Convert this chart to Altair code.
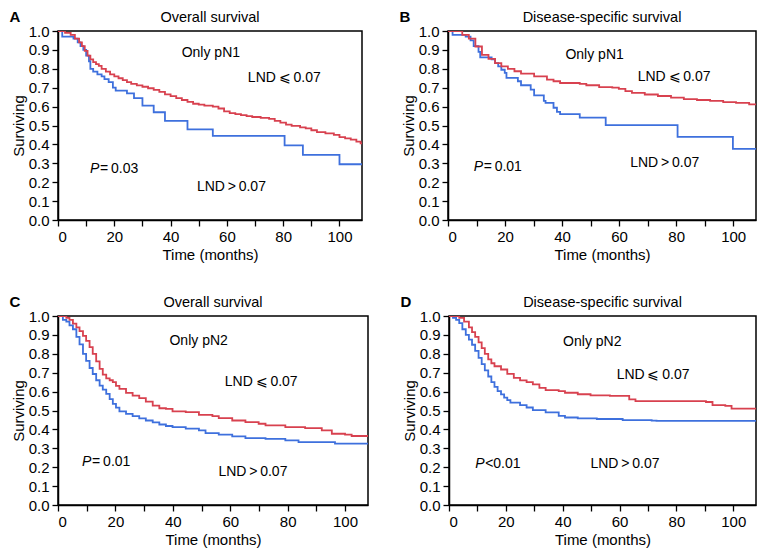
import altair as alt
import pandas as pd

RED = "#d8414f"
BLUE = "#3e70dd"
FONT = "Liberation Sans"

# ---------------- Panel A: Overall survival, only pN1 ----------------
A_red_t = [0, 2.5, 4.5, 6, 7.5, 8.5, 9.5, 10.5, 11.5, 12.5, 13.5, 14.5, 15.5, 17, 18.5, 20, 21.5, 23, 24.5, 26, 28, 30, 32, 34, 36, 38, 40, 42, 44, 46, 48, 50, 52, 55, 57, 59, 61, 63, 65, 67, 69, 72, 75, 77, 79, 81, 83, 86, 88, 90, 92, 95, 98, 100, 102, 104, 106, 107.5, 108]
A_red_s = [1.0, 0.99, 0.98, 0.96, 0.94, 0.92, 0.895, 0.87, 0.85, 0.835, 0.825, 0.815, 0.80, 0.785, 0.77, 0.76, 0.75, 0.74, 0.73, 0.72, 0.712, 0.705, 0.697, 0.688, 0.678, 0.665, 0.655, 0.645, 0.635, 0.625, 0.615, 0.61, 0.605, 0.60, 0.59, 0.575, 0.565, 0.56, 0.555, 0.55, 0.545, 0.54, 0.535, 0.525, 0.515, 0.505, 0.498, 0.49, 0.485, 0.475, 0.465, 0.458, 0.45, 0.438, 0.432, 0.425, 0.415, 0.405, 0.405]
A_blue_t = [0, 1.5, 5.5, 7, 8, 9, 10, 11, 11.5, 12.5, 14, 15.5, 16.5, 18, 19.5, 20.5, 24.5, 27, 30, 34, 38, 46, 55, 80.5, 87, 100, 108]
A_blue_s = [1.0, 0.97, 0.96, 0.94, 0.92, 0.90, 0.87, 0.84, 0.80, 0.785, 0.77, 0.76, 0.745, 0.73, 0.70, 0.685, 0.67, 0.645, 0.605, 0.57, 0.525, 0.48, 0.445, 0.395, 0.345, 0.295, 0.295]
A_note_text = ["Only pN1", "LND\u2009\u2a7d\u20090.07", "LND\u2009>\u20090.07"]
A_note_t = [54.3, 80.4, 61.6]
A_note_s = [0.882, 0.75, 0.176]
A_p_text = "=\u20090.03"
A_p_t = 11.4
A_p_s = 0.27

# ---------------- Panel B: Disease-specific survival, only pN1 ----------------
B_red_t = [0, 2.2, 5.0, 7.3, 9.6, 11.9, 14.2, 16.5, 18.7, 21.0, 23.3, 25.6, 30.2, 34.7, 37.0, 39.3, 46.2, 48.5, 53.0, 57.6, 59.9, 62.2, 64.5, 69.0, 73.6, 78.2, 82.7, 87.3, 91.9, 96.5, 101.0, 105.6, 108]
B_red_s = [1.0, 1.0, 0.98, 0.96, 0.918, 0.874, 0.853, 0.83, 0.813, 0.80, 0.787, 0.774, 0.76, 0.743, 0.734, 0.725, 0.72, 0.713, 0.703, 0.70, 0.694, 0.682, 0.673, 0.664, 0.656, 0.647, 0.64, 0.635, 0.63, 0.624, 0.62, 0.612, 0.607]
B_blue_t = [0, 1.6, 6.2, 7.9, 9.0, 10.7, 11.3, 15.3, 16.5, 17.6, 18.7, 19.9, 20.5, 24.5, 25.6, 29.0, 30.2, 33.6, 34.2, 37.0, 38.2, 39.3, 46.2, 55.3, 80.5, 99.9, 108]
B_blue_s = [1.0, 0.98, 0.97, 0.95, 0.92, 0.89, 0.86, 0.85, 0.83, 0.813, 0.795, 0.778, 0.752, 0.734, 0.713, 0.69, 0.659, 0.63, 0.62, 0.594, 0.572, 0.56, 0.542, 0.502, 0.44, 0.376, 0.376]
B_note_text = ["Only pN1", "LND\u2009\u2a7d\u20090.07", "LND\u2009>\u20090.07"]
B_note_t = [51.4, 79.3, 76.0]
B_note_s = [0.874, 0.755, 0.30]
B_p_text = "=\u20090.01"
B_p_t = 9.0
B_p_s = 0.28

# ---------------- Panel C: Overall survival, only pN2 ----------------
C_red_t = [0, 2.9, 4.0, 5.2, 6.4, 7.5, 8.7, 9.8, 11.0, 12.1, 13.3, 14.5, 15.6, 16.8, 18.0, 19.1, 20.2, 21.4, 23.7, 26.0, 28.3, 30.6, 33.0, 35.3, 37.6, 39.9, 44.5, 49.1, 53.8, 56.0, 60.7, 65.3, 69.9, 72.3, 79.2, 86.1, 91.9, 95.4, 100.0, 102.3, 108]
C_red_s = [1.0, 0.99, 0.98, 0.96, 0.94, 0.92, 0.895, 0.868, 0.835, 0.80, 0.76, 0.72, 0.69, 0.67, 0.66, 0.65, 0.63, 0.614, 0.593, 0.579, 0.565, 0.547, 0.526, 0.512, 0.509, 0.495, 0.491, 0.477, 0.47, 0.46, 0.447, 0.439, 0.43, 0.421, 0.412, 0.407, 0.395, 0.377, 0.372, 0.365, 0.365]
C_blue_t = [0, 1.7, 2.9, 4.0, 5.2, 6.4, 7.5, 8.7, 9.8, 11.0, 12.1, 13.3, 14.5, 15.6, 16.8, 18.0, 19.1, 20.2, 21.4, 23.7, 26.0, 28.3, 30.6, 33.0, 35.3, 37.6, 39.9, 44.5, 49.1, 51.4, 56.0, 60.7, 65.3, 72.3, 79.2, 83.8, 96.5, 108]
C_blue_s = [1.0, 0.98, 0.97, 0.95, 0.93, 0.89, 0.85, 0.80, 0.763, 0.725, 0.693, 0.66, 0.632, 0.61, 0.588, 0.56, 0.535, 0.515, 0.495, 0.482, 0.47, 0.458, 0.447, 0.437, 0.426, 0.418, 0.412, 0.404, 0.395, 0.38, 0.372, 0.363, 0.354, 0.35, 0.342, 0.333, 0.325, 0.325]
C_note_text = ["Only pN2", "LND\u2009\u2a7d\u20090.07", "LND\u2009>\u20090.07"]
C_note_t = [49.0, 70.8, 67.9]
C_note_s = [0.868, 0.65, 0.172]
C_p_text = "=\u20090.01"
C_p_t = 8.4
C_p_s = 0.228

# ---------------- Panel D: Disease-specific survival, only pN2 ----------------
D_red_t = [0, 3.6, 5.3, 7.0, 8.1, 9.2, 10.4, 11.5, 12.6, 13.8, 14.9, 16.0, 18.3, 20.5, 22.8, 25.0, 27.3, 29.5, 31.8, 34.0, 38.6, 40.8, 45.3, 49.8, 56.6, 63.4, 65.6, 79.0, 90.4, 92.7, 97.2, 99.4, 108]
D_red_s = [1.0, 0.99, 0.97, 0.94, 0.915, 0.89, 0.86, 0.83, 0.80, 0.77, 0.75, 0.734, 0.717, 0.694, 0.673, 0.659, 0.65, 0.638, 0.62, 0.608, 0.603, 0.594, 0.586, 0.58, 0.577, 0.559, 0.55, 0.55, 0.545, 0.528, 0.524, 0.51, 0.51]
D_blue_t = [0, 1.4, 2.5, 3.6, 4.7, 5.9, 7.0, 8.1, 9.2, 10.4, 11.5, 12.6, 13.8, 14.9, 16.0, 17.1, 18.3, 19.4, 20.5, 21.6, 25.0, 27.3, 29.5, 34.0, 38.6, 40.8, 45.3, 52.0, 61.1, 71.3, 73.0, 108]
D_blue_s = [1.0, 0.99, 0.98, 0.962, 0.93, 0.90, 0.875, 0.848, 0.815, 0.778, 0.745, 0.712, 0.68, 0.65, 0.625, 0.603, 0.585, 0.568, 0.555, 0.542, 0.528, 0.516, 0.502, 0.49, 0.472, 0.463, 0.458, 0.455, 0.449, 0.446, 0.445, 0.445]
D_note_text = ["Only pN2", "LND\u2009\u2a7d\u20090.07", "LND\u2009>\u20090.07"]
D_note_t = [50.4, 71.8, 61.9]
D_note_s = [0.865, 0.69, 0.218]
D_p_text = "<0.01"
D_p_t = 9.2
D_p_s = 0.218

X_TICKS = list(range(0, 101, 10))
Y_TICKS = [i / 10 for i in range(11)]


def panel(letter, title, red_t, red_s, blue_t, blue_s, note_text, note_t, note_s,
          p_text, p_t, p_s, width, height):
    xenc = alt.X("t:Q", scale=alt.Scale(domain=[0, 108], nice=False, zero=False),
                 axis=alt.Axis(values=X_TICKS, title="Time (months)",
                               labelExpr="datum.value % 20 == 0 ? datum.label : ''"))
    yenc = alt.Y("s:Q", scale=alt.Scale(domain=[0, 1], nice=False),
                 axis=alt.Axis(values=Y_TICKS, format=".1f", title="Surviving"))
    blue = alt.Chart(pd.DataFrame({"t": blue_t, "s": blue_s})).mark_line(
        interpolate="step-after", color=BLUE, strokeWidth=1.8, clip=True
    ).encode(x=xenc, y=yenc)
    red = alt.Chart(pd.DataFrame({"t": red_t, "s": red_s})).mark_line(
        interpolate="step-after", color=RED, strokeWidth=1.8, clip=True
    ).encode(x=xenc, y=yenc)
    notes = alt.Chart(pd.DataFrame({"t": note_t, "s": note_s, "txt": note_text})).mark_text(
        font=FONT, fontSize=14, color="black", align="center", baseline="middle"
    ).encode(x=xenc, y=yenc, text="txt:N")
    pdf = pd.DataFrame({"t": [p_t], "s": [p_s], "p": ["P"], "rest": [p_text]})
    pchar = alt.Chart(pdf).mark_text(
        font=FONT, fontSize=14, fontStyle="italic", color="black", align="left", baseline="middle"
    ).encode(x=xenc, y=yenc, text="p:N")
    prest = alt.Chart(pdf).mark_text(
        font=FONT, fontSize=14, color="black", align="left", baseline="middle", dx=10
    ).encode(x=xenc, y=yenc, text="rest:N")
    head = alt.Chart(pd.DataFrame({"l": [letter], "ttl": [title]}))
    let = head.mark_text(
        font=FONT, fontSize=15, fontWeight="bold", color="black", align="center", baseline="middle"
    ).encode(x=alt.value(-43), y=alt.value(-14.5), text="l:N")
    ttl = head.mark_text(
        font=FONT, fontSize=14.5, color="black", align="center", baseline="middle"
    ).encode(x=alt.value(width / 2), y=alt.value(-13.5), text="ttl:N")
    return alt.layer(blue, red, notes, pchar, prest, let, ttl).properties(
        width=width, height=height)


pA = panel("A", "Overall survival", A_red_t, A_red_s, A_blue_t, A_blue_s,
           A_note_text, A_note_t, A_note_s, A_p_text, A_p_t, A_p_s, 304, 189)
pB = panel("B", "Disease-specific survival", B_red_t, B_red_s, B_blue_t, B_blue_s,
           B_note_text, B_note_t, B_note_s, B_p_text, B_p_t, B_p_s, 308, 189)
pC = panel("C", "Overall survival", C_red_t, C_red_s, C_blue_t, C_blue_s,
           C_note_text, C_note_t, C_note_s, C_p_text, C_p_t, C_p_s, 310, 189)
pD = panel("D", "Disease-specific survival", D_red_t, D_red_s, D_blue_t, D_blue_s,
           D_note_text, D_note_t, D_note_s, D_p_text, D_p_t, D_p_s, 307, 189)

chart = alt.vconcat(
    alt.hconcat(pA, pB, spacing=35),
    alt.hconcat(pC, pD, spacing=30),
    spacing=30,
).properties(padding=0).configure_axis(
    labelFont=FONT, titleFont=FONT, labelFontSize=15, titleFontSize=15,
    titleFontWeight="normal", labelColor="black", titleColor="black",
    domainColor="black", domainWidth=1.5, tickColor="black", tickWidth=1.3,
    tickSize=6, grid=False, labelPadding=3, titlePadding=3,
).configure_axisY(titlePadding=2, labelPadding=3).configure_view(stroke="black", strokeWidth=1.5)

chart.save("out.html", embed_options={"renderer": "svg", "actions": False})
